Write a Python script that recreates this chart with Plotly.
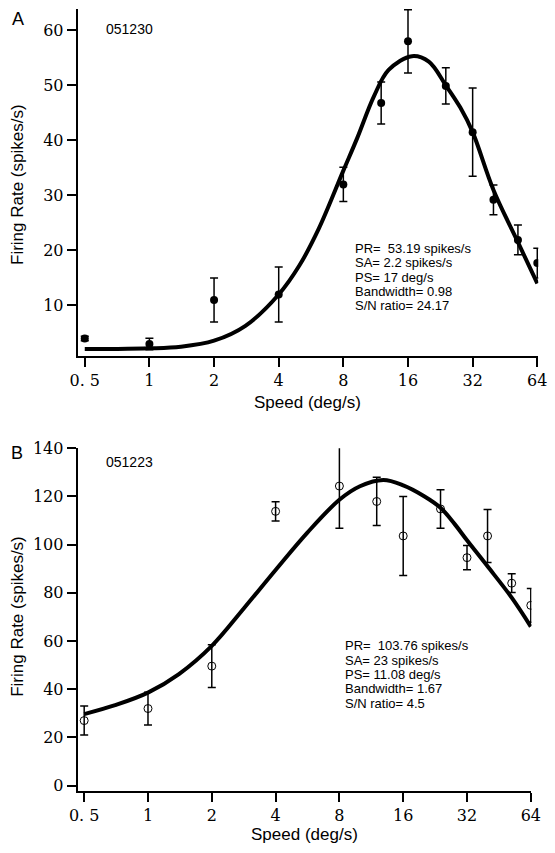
import math
import plotly.graph_objects as go

# ---------------- data ----------------
speeds = [0.5, 1, 2, 4, 8, 12, 16, 24, 32, 40, 52, 64]

rate_A = [4.0, 3.0, 11.0, 12.0, 32.0, 46.8, 58.0, 49.9, 41.5, 29.2, 21.9, 17.7]
err_A = [0.4, 1.05, 4.0, 5.0, 3.1, 3.8, 5.75, 3.3, 8.0, 2.7, 2.7, 2.7]

rate_B = [27.0, 32.0, 49.6, 113.8, 124.3, 117.9, 103.6, 114.8, 94.6, 103.6, 84.0, 74.8]
err_B = [6.0, 6.8, 8.9, 4.0, 17.5, 10.0, 16.4, 8.0, 5.0, 11.0, 3.9, 7.0]

fit_speed_A = [0.5, 0.7, 1, 1.4, 2, 2.8, 4, 5, 6.14, 8, 9.3, 11.1, 13, 16.7, 20, 24, 28, 32, 40, 52, 64]
fit_rate_A = [2.1, 2.1, 2.2, 2.5, 3.6, 6.3, 12.0, 17.3, 23.9, 34.5, 40.5, 48.0, 52.8, 55.3, 54.3, 50.0, 46.0, 41.5, 31.0, 21.5, 14.0]

fit_speed_B = [0.5, 0.7, 1, 1.4, 2, 2.83, 4, 5.65, 8, 10, 12.9, 16, 20, 24, 28, 32, 40, 52, 64]
fit_rate_B = [29.7, 33.4, 38.6, 46.3, 58.0, 73.5, 89.5, 105.0, 118.6, 124.2, 126.8, 124.6, 120.2, 115.3, 108.5, 101.8, 91.0, 78.0, 66.0]

x_tickvals = [0.5, 1, 2, 4, 8, 16, 32, 64]
x_ticktext = ["0. 5", "1", "2", "4", "8", "16", "32", "64"]
yA_ticks = [10, 20, 30, 40, 50, 60]
yB_ticks = [0, 20, 40, 60, 80, 100, 120, 140]

params_A = ["PR=\u00a0 53.19 spikes/s", "SA= 2.2 spikes/s", "PS= 17 deg/s",
            "Bandwidth= 0.98", "S/N ratio= 24.17"]
params_B = ["PR=\u00a0 103.76 spikes/s", "SA= 23 spikes/s", "PS= 11.08 deg/s",
            "Bandwidth= 1.67", "S/N ratio= 4.5"]

# ---------------- layout helpers ----------------
W, H = 555, 853
L2 = math.log10(2)


def dom_x(a, b):
    return [a / W, b / W]


def dom_y(top, bottom):
    return [1 - bottom / H, 1 - top / H]


def py(p):
    return 1 - p / H


SANS = "Liberation Sans, Arial, sans-serif"
SERIF = "DejaVu Serif, serif"

fig = go.Figure()

fig.add_trace(go.Scatter(
    x=fit_speed_A, y=fit_rate_A, mode="lines", xaxis="x", yaxis="y",
    line=dict(color="black", width=4, shape="spline", smoothing=1),
    showlegend=False, hoverinfo="skip"))
fig.add_trace(go.Scatter(
    x=speeds, y=rate_A, mode="markers", xaxis="x", yaxis="y",
    marker=dict(symbol="circle", size=8, color="black"),
    error_y=dict(type="data", array=err_A, color="black", thickness=1.5, width=4),
    showlegend=False))

fig.add_trace(go.Scatter(
    x=fit_speed_B, y=fit_rate_B, mode="lines", xaxis="x2", yaxis="y2",
    line=dict(color="black", width=4, shape="spline", smoothing=1),
    showlegend=False, hoverinfo="skip"))
fig.add_trace(go.Scatter(
    x=speeds, y=rate_B, mode="markers", xaxis="x2", yaxis="y2",
    marker=dict(symbol="circle-open", size=8, color="black", line=dict(width=1, color="black")),
    error_y=dict(type="data", array=err_B, color="black", thickness=1.5, width=4),
    showlegend=False))

axis_common = dict(showline=True, linecolor="black", linewidth=2, ticks="outside",
                   ticklen=9, tickwidth=2, tickcolor="black", showgrid=False,
                   zeroline=False, tickfont=dict(family=SERIF, size=16, color="black"))

fig.update_layout(
    width=W, height=H,
    margin=dict(l=0, r=0, t=0, b=0),
    paper_bgcolor="white", plot_bgcolor="white",
    xaxis=dict(domain=dom_x(71, 547), anchor="y", type="log",
               range=[math.log10(0.5) - (78.3 - 71) / 66.8 * L2, math.log10(64) + 1 / 66.8 * L2],
               tickvals=x_tickvals, ticktext=x_ticktext, **axis_common),
    yaxis=dict(domain=dom_y(0, 352), anchor="x", range=[0.877, 63.88],
               tickvals=yA_ticks, **axis_common),
    xaxis2=dict(domain=dom_x(71, 540), anchor="y2", type="log",
                range=[math.log10(0.5) - (77.7 - 71) / 65.9 * L2, math.log10(64) + 0.7 / 65.9 * L2],
                tickvals=x_tickvals, ticktext=x_ticktext, **axis_common),
    yaxis2=dict(domain=dom_y(446, 794), anchor="x2", range=[-2.17, 140],
                tickvals=yB_ticks, **axis_common),
)

ann = []
# panel letters and cell ids
ann.append(dict(text="A", x=1 / W, y=py(10.5), xanchor="left", yanchor="middle",
                font=dict(family=SANS, size=18, color="black")))
ann.append(dict(text="B", x=0 / W, y=py(451), xanchor="left", yanchor="middle",
                font=dict(family=SANS, size=18, color="black")))
ann.append(dict(text="051230", x=98 / W, y=py(20.7), xanchor="left", yanchor="middle",
                font=dict(family=SANS, size=14, color="black")))
ann.append(dict(text="051223", x=98 / W, y=py(460), xanchor="left", yanchor="middle",
                font=dict(family=SANS, size=14, color="black")))
# axis titles
ann.append(dict(text="Speed (deg/s)", x=309 / W, y=py(400), xanchor="center", yanchor="middle",
                font=dict(family=SANS, size=17, color="black"), borderpad=0))
ann.append(dict(text="Speed (deg/s)", x=305.5 / W, y=py(838.5), xanchor="center", yanchor="middle",
                font=dict(family=SANS, size=17, color="black"), borderpad=0))
ann.append(dict(text="Firing Rate (spikes/s)", x=9 / W, y=py(178), textangle=-90,
                xanchor="center", yanchor="middle",
                font=dict(family=SANS, size=17, color="black")))
ann.append(dict(text="Firing Rate (spikes/s)", x=8.5 / W, y=py(617), textangle=-90,
                xanchor="center", yanchor="middle",
                font=dict(family=SANS, size=17, color="black")))
# fit parameter text
for i, t in enumerate(params_A):
    ann.append(dict(text=t, x=357 / W, y=py(243.3 + i * 14.5), xanchor="left", yanchor="middle",
                    font=dict(family=SANS, size=13, color="black"), borderpad=0))
for i, t in enumerate(params_B):
    ann.append(dict(text=t, x=346.7 / W, y=py(646.7 + i * 14.6), xanchor="left", yanchor="middle",
                    font=dict(family=SANS, size=13, color="black"), borderpad=0))

for a in ann:
    a.update(xref="paper", yref="paper", showarrow=False)
fig.update_layout(annotations=ann)

fig.write_html("out.html", config={"displayModeBar": False},
               post_script="document.body.style.margin='0px';document.body.style.overflow='hidden';")
